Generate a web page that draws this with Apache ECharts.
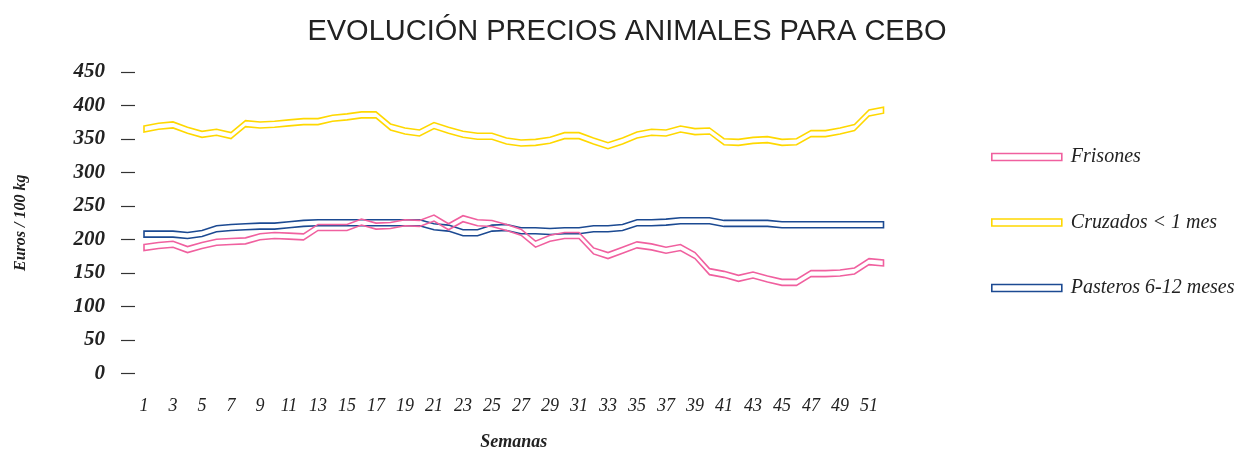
<!DOCTYPE html>
<html>
<head>
<meta charset="utf-8">
<script src="https://cdn.jsdelivr.net/npm/echarts@6/dist/echarts.min.js"></script>
<style>
  html, body { margin: 0; padding: 0; background: #fff; }
  #chart { width: 1240px; height: 452px; }
</style>
</head>
<body>
<div id="chart"></div>
<script>
  // semanas 1..52
  var weeks = []
  for (var w = 1; w <= 52; w++) weeks.push(String(w))

  var yTicks = [0, 50, 100, 150, 200, 250, 300, 350, 400, 450]

  var frisones = [188, 191, 193, 185, 191, 196, 197, 198, 204, 206, 205, 204, 218, 218, 218, 226,
    220, 221, 225, 224, 232, 219, 231, 225, 224, 218, 211, 193, 202, 206, 206, 183,
    176, 184, 192, 189, 184, 188, 176, 152, 148, 142, 147, 141, 136, 136, 149, 149,
    150, 153, 167, 165]

  var cruzados = [365, 369, 371, 363, 357, 360, 355, 373, 371, 372, 374, 376, 376, 381, 383, 386,
    386, 368, 362, 359, 370, 363, 357, 354, 354, 347, 344, 345, 348, 355, 355, 347,
    340, 347, 356, 360, 359, 365, 361, 362, 346, 345, 348, 349, 345, 346, 358, 358,
    362, 367, 389, 393]

  var pasteros = [208, 208, 208, 206, 209, 216, 218, 219, 220, 220, 222, 224, 225, 225, 225, 225,
    225, 225, 225, 225, 219, 217, 210, 210, 217, 218, 213, 213, 212, 213, 213, 216,
    216, 218, 225, 225, 226, 228, 228, 228, 224, 224, 224, 224, 222, 222, 222, 222,
    222, 222, 222, 222]

  var colors = {
    Frisones: '#f0609f',
    'Cruzados < 1 mes': '#ffd800',
    'Pasteros 6-12 meses': '#1c4a92'
  }

  // cinta hueca: contorno de la serie desplazado 3px arriba y abajo
  function ribbon(vals, color) {
    return function (params, api) {
      if (params.dataIndex !== 0) return null
      var top = [], bottom = []
      for (var j = 0; j < vals.length; j++) {
        var p = api.coord([j, vals[j]])
        top.push([p[0], p[1] - 3])
        bottom.unshift([p[0], p[1] + 3])
      }
      return {
        type: 'polygon',
        shape: { points: top.concat(bottom) },
        style: { fill: 'none', stroke: color, lineWidth: 1.6 }
      }
    }
  }

  function makeSeries(name, vals) {
    return {
      name: name,
      type: 'custom',
      renderItem: ribbon(vals, colors[name]),
      itemStyle: { color: colors[name] },
      data: vals.map(function (v, i) { return [i, v] }),
      silent: true
    }
  }

  var dom = echarts.init(document.getElementById('chart'))
  var option = {
    animation: false,
    title: {
      text: 'EVOLUCIÓN PRECIOS ANIMALES PARA CEBO',
      left: 622,
      textAlign: 'center',
      top: 12,
      textStyle: {
        fontFamily: 'Liberation Sans',
        fontSize: 29,
        fontWeight: 'normal',
        color: '#222'
      }
    },
    legend: {
      orient: 'vertical',
      left: 986,
      top: 142,
      itemWidth: 70,
      itemHeight: 7,
      itemGap: 45.5,
      icon: 'rect',
      textStyle: {
        fontFamily: 'Liberation Serif',
        fontStyle: 'italic',
        fontSize: 20,
        color: '#222',
        padding: [0, 0, 0, 4]
      },
      data: Object.keys(colors).map(function (k) {
        return {
          name: k,
          icon: 'rect',
          itemStyle: { color: '#fff', borderColor: colors[k], borderWidth: 1.6 }
        }
      })
    },
    grid: {
      left: 144,
      right: 356.5,
      top: 72,
      bottom: 78.5,
      containLabel: false,
      outerBoundsMode: 'none'
    },
    xAxis: {
      type: 'category',
      data: weeks,
      boundaryGap: false,
      axisLine: { show: false },
      axisTick: { show: false },
      splitLine: { show: false },
      axisLabel: {
        interval: 1,
        margin: 24,
        fontFamily: 'Liberation Serif',
        fontStyle: 'italic',
        fontSize: 18,
        color: '#222'
      },
      name: 'Semanas',
      nameLocation: 'middle',
      nameGap: 60,
      nameTextStyle: {
        fontFamily: 'Liberation Serif',
        fontStyle: 'italic',
        fontWeight: 'bold',
        fontSize: 18,
        color: '#222'
      }
    },
    yAxis: {
      type: 'value',
      min: yTicks[0],
      max: yTicks[yTicks.length - 1],
      interval: 50,
      offset: 9,
      axisLine: { show: false },
      axisTick: { show: true, length: 14, lineStyle: { color: '#333', width: 1.2 } },
      splitLine: { show: false },
      axisLabel: {
        margin: 30,
        fontFamily: 'Liberation Serif',
        fontStyle: 'italic',
        fontWeight: 'bold',
        fontSize: 21,
        color: '#222'
      },
      name: 'Euros / 100 kg',
      nameLocation: 'middle',
      nameRotate: 90,
      nameGap: 106,
      nameTextStyle: {
        fontFamily: 'Liberation Serif',
        fontStyle: 'italic',
        fontWeight: 'bold',
        fontSize: 16,
        color: '#222'
      }
    },
    series: [
      makeSeries('Pasteros 6-12 meses', pasteros),
      makeSeries('Cruzados < 1 mes', cruzados),
      makeSeries('Frisones', frisones)
    ]
  }
  dom.setOption(option)
</script>
</body>
</html>
